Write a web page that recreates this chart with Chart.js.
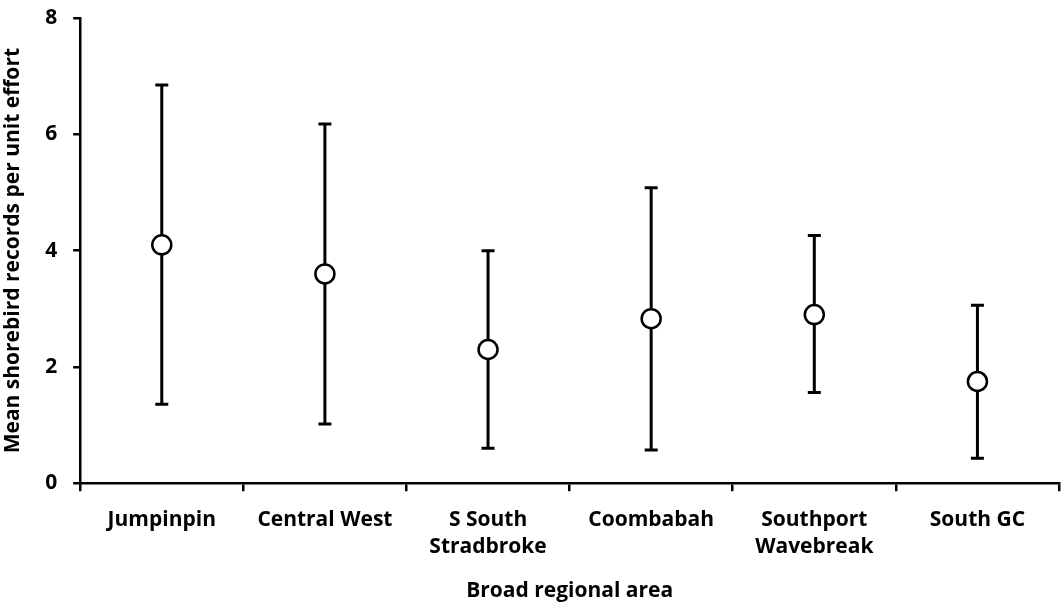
<!DOCTYPE html>
<html>
<head>
<meta charset="utf-8">
<script src="https://cdn.jsdelivr.net/npm/chart.js@4/dist/chart.umd.min.js"></script>
<style>
    html, body { margin: 0; padding: 0; background: #fff; overflow: hidden; }
    #wrap { width: 1071px; height: 606px; }
</style>
</head>
<body>
<div id="wrap"><canvas id="errChart" width="1071" height="606"></canvas></div>
<script>
let categories = ['Jumpinpin', 'Central West', ['S South', 'Stradbroke'], 'Coombabah', ['Southport', 'Wavebreak'], 'South GC']
let means = [4.10, 3.60, 2.30, 2.83, 2.90, 1.75]
let upper = [6.85, 6.18, 4.00, 5.08, 4.26, 3.06]
let lower = [1.36, 1.02, 0.60, 0.57, 1.56, 0.43]
let yTicks = [0, 2, 4, 6, 8]

let fontFamily = '"Open Sans", "DejaVu Sans", sans-serif'

// draws the vertical bars + caps before the points go on top
let errorBarPlugin = {
    id: 'errorBars',
    beforeDatasetsDraw: function (chart) {
        let ctx = chart.ctx
        let x = chart.scales.x
        let y = chart.scales.y
        ctx.save()
        ctx.strokeStyle = '#000'
        ctx.lineWidth = 3
        for (let i = 0; i < means.length; i++) {
            let px = x.getPixelForValue(i)
            let top = y.getPixelForValue(upper[i])
            let bot = y.getPixelForValue(lower[i])
            ctx.beginPath()
            ctx.moveTo(px, top)
            ctx.lineTo(px, bot)
            ctx.moveTo(px - 6.5, top)
            ctx.lineTo(px + 6.5, top)
            ctx.moveTo(px - 6.5, bot)
            ctx.lineTo(px + 6.5, bot)
            ctx.stroke()
        }
        ctx.restore()
    }
}

let ctx = document.getElementById('errChart').getContext('2d')
window.errChart = new Chart(ctx, {
    type: 'line',
    data: {
        labels: categories,
        datasets: [{
            data: means,
            showLine: false,
            pointRadius: 9.5,
            pointHoverRadius: 9.5,
            pointBorderWidth: 2.5,
            pointBorderColor: '#000',
            pointBackgroundColor: '#fff'
        }]
    },
    options: {
        responsive: false,
        animation: false,
        layout: { padding: { top: 0, right: 1, left: 0, bottom: 2 } },
        plugins: {
            legend: { display: false },
            tooltip: { enabled: false }
        },
        scales: {
            x: {
                offset: true,
                grid: {
                    offset: true,
                    drawOnChartArea: false,
                    drawTicks: true,
                    tickLength: 8,
                    color: '#000',
                    lineWidth: 2.5
                },
                border: { color: '#000', width: 2.5 },
                ticks: {
                    color: '#000',
                    font: { family: fontFamily, size: 21, weight: 'bold', lineHeight: 1.3 },
                    maxRotation: 0,
                    autoSkip: false,
                    padding: 15
                },
                title: {
                    display: true,
                    text: 'Broad regional area',
                    color: '#000',
                    font: { family: fontFamily, size: 21, weight: 'bold' },
                    padding: { top: 3, bottom: 0 }
                }
            },
            y: {
                min: 0,
                max: 8,
                afterBuildTicks: function (scale) {
                    scale.ticks = yTicks.map(v => ({ value: v }))
                },
                grid: {
                    drawOnChartArea: false,
                    drawTicks: true,
                    tickLength: 7,
                    color: '#000',
                    lineWidth: 2.5
                },
                border: { color: '#000', width: 2.5 },
                ticks: {
                    color: '#000',
                    font: { family: fontFamily, size: 21, weight: 'bold', lineHeight: 0.2 },
                    padding: 16
                },
                title: {
                    display: true,
                    text: 'Mean shorebird records per unit effort',
                    color: '#000',
                    font: { family: fontFamily, size: 21, weight: 'bold' },
                    padding: { top: 0, bottom: 4 }
                }
            }
        }
    },
    plugins: [errorBarPlugin]
});
</script>
</body>
</html>
